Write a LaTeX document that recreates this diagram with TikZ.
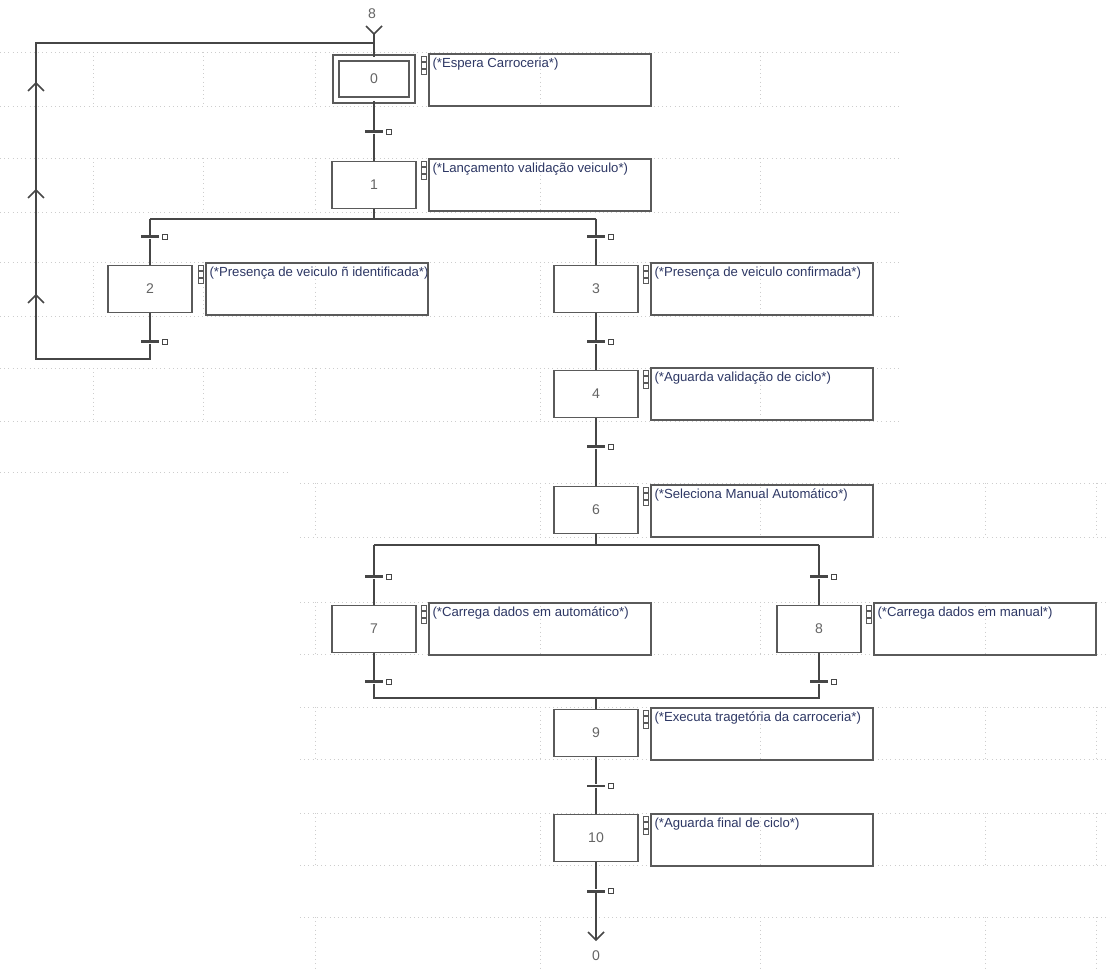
\documentclass[tikz,border=0pt]{standalone}
\usepackage{fontspec}
\setmainfont{Liberation Sans}
\definecolor{linegray}{RGB}{70,70,70}
\definecolor{boxgray}{RGB}{90,90,90}
\definecolor{numgray}{RGB}{100,100,100}
\definecolor{txtblue}{RGB}{45,55,100}
\definecolor{gridgray}{RGB}{205,205,205}
\begin{document}
\begin{tikzpicture}[x = 0.02cm, y = -0.02cm,
	flow/.style = {draw = linegray, line width = 0.03cm},
	gridline/.style = {draw = gridgray, dotted, line width = 0.4pt},
	stepbox/.style = {draw = boxgray, line width = 0.035cm, minimum width = 1.68cm, minimum height = 0.94cm, inner sep = 0pt, text = numgray, font = \fontsize{8}{9}\selectfont},
	initstep/.style = {stepbox, double = white, double distance = 0.09cm, minimum width = 1.52cm, minimum height = 0.84cm},
	act/.style = {draw = boxgray, line width = 0.04cm, minimum width = 4.44cm, minimum height = 1.04cm, inner sep = 0pt, anchor = north west,
		path picture = {\node [draw = none, minimum width = 0pt, minimum height = 0pt, anchor = north west, inner sep = 0pt, text = txtblue, font = \fontsize{7.5}{9}\selectfont] at ([xshift = 0.05cm, yshift = -0.06cm]path picture bounding box.north west) {#1};}},
	trans/.style = {fill = linegray, minimum width = 0.36cm, minimum height = 0.06cm, inner sep = 0pt,
		label = {[draw = linegray, line width = 0.02cm, minimum size = 0.1cm, inner sep = 0pt, label distance = 0.06cm]right:{}}},
	toplabel/.style = {text = numgray, font = \fontsize{8}{9}\selectfont}]
	\useasboundingbox (0,0) rectangle (1110,969);
	\foreach \ya/\yb in {52/106,158/212,262/316,368/421} {
		\draw [gridline] (0,\ya) -- (900,\ya) (0,\yb) -- (900,\yb);
		\foreach \x in {93,203,315,540,760} \draw [gridline] (\x,\ya) -- (\x,\yb);
	}
	\draw [gridline] (0,472) -- (290,472);
	\foreach \ya/\yb in {483/537,602/654,707/759,813/865,917/969} {
		\draw [gridline] (300,\ya) -- (1110,\ya) (300,\yb) -- (1110,\yb);
		\foreach \x in {315,540,760,985,1096} \draw [gridline] (\x,\ya) -- (\x,\yb);
	}
	\node [initstep] (s0) at (374,79) {0};
	\node [stepbox] (s1) at (374,185) {1};
	\node [stepbox] (s2) at (150,289) {2};
	\node [stepbox] (s3) at (596,289) {3};
	\node [stepbox] (s4) at (596,394) {4};
	\node [stepbox] (s6) at (596,510) {6};
	\node [stepbox] (s7) at (374,629) {7};
	\node [stepbox] (s8) at (819,629) {8};
	\node [stepbox] (s9) at (596,733) {9};
	\node [stepbox] (s10) at (596,838) {10};
	\node [act = {(*Espera Carroceria*)}] (a0) at (428,53) {};
	\node [act = {(*Lançamento validação veiculo*)}] (a1) at (428,158) {};
	\node [act = {(*Presença de veiculo ñ identificada*)}] (a2) at (205,262) {};
	\node [act = {(*Presença de veiculo confirmada*)}] (a3) at (650,262) {};
	\node [act = {(*Aguarda validação de ciclo*)}] (a4) at (650,367) {};
	\node [act = {(*Seleciona Manual Automático*)}] (a6) at (650,484) {};
	\node [act = {(*Carrega dados em automático*)}] (a7) at (428,602) {};
	\node [act = {(*Carrega dados em manual*)}] (a8) at (873,602) {};
	\node [act = {(*Executa tragetória da carroceria*)}] (a9) at (650,707) {};
	\node [act = {(*Aguarda final de ciclo*)}] (a10) at (650,813) {};
	\foreach \a in {a0,a1,a2,a3,a4,a6,a7,a8,a9,a10}
		\foreach \k in {0,1,2}
			\draw [boxgray, line width = 0.015cm] ([xshift = -0.14cm, yshift = {-0.06cm-\k*0.13cm}]\a.north west) rectangle ++(0.1cm,-0.11cm);
	\node [trans] (t01) at (374,132) {};
	\node [trans] (t12) at (150,237) {};
	\node [trans] (t13) at (596,237) {};
	\node [trans] (t2) at (150,342) {};
	\node [trans] (t34) at (596,342) {};
	\node [trans] (t46) at (596,447) {};
	\node [trans] (t67) at (374,577) {};
	\node [trans] (t68) at (819,577) {};
	\node [trans] (t79) at (374,682) {};
	\node [trans] (t89) at (819,682) {};
	\node [trans] (t910) at (596,786) {};
	\node [trans] (t10) at (596,891) {};
	\coordinate (top) at (374,34);
	\coordinate (d1l) at (150,219);
	\coordinate (d1r) at (596,219);
	\coordinate (d2l) at (374,545);
	\coordinate (d2r) at (819,545);
	\coordinate (c2l) at (374,698);
	\coordinate (c2r) at (819,698);
	\coordinate (loopb) at (150,359);
	\coordinate (loopl) at (36,359);
	\coordinate (loopt) at (36,43);
	\coordinate (end) at (596,940);
	\draw [flow] (top) -- (s0) -- (t01) -- (s1) -- (s1 |- d1l);
	\draw [flow] (d1l) -- (d1r);
	\draw [flow] (d1l) -- (t12) -- (s2) -- (t2) -- (loopb) -- (loopl) -- (loopt) -- (top |- loopt);
	\draw [flow] (d1r) -- (t13) -- (s3) -- (t34) -- (s4) -- (t46) -- (s6) -- (s6 |- d2l);
	\draw [flow] (d2l) -- (d2r);
	\draw [flow] (d2l) -- (t67) -- (s7) -- (t79) -- (c2l) -- (c2r) -- (t89) -- (s8) -- (t68) -- (d2r);
	\draw [flow] (s9 |- c2l) -- (s9) -- (t910) -- (s10) -- (t10) -- (end);
	\draw [flow] ([xshift = -0.16cm, yshift = 0.16cm]top) -- (top) -- ([xshift = 0.16cm, yshift = 0.16cm]top);
	\draw [flow] ([xshift = -0.16cm, yshift = 0.16cm]end) -- (end) -- ([xshift = 0.16cm, yshift = 0.16cm]end);
	\foreach \y in {83,190,295} \draw [flow] (28,\y+8) -- (36,\y) -- (44,\y+8);
	\node [toplabel] (from8) at (372,14) {8};
	\node [toplabel] (to0) at (596,956) {0};
\end{tikzpicture}
\end{document}
